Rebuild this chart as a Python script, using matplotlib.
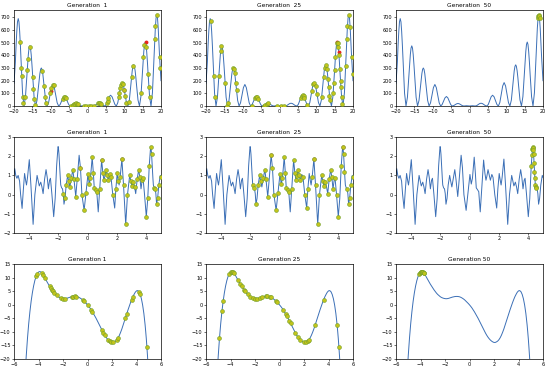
import numpy as np
import matplotlib
matplotlib.use("Agg")
import matplotlib.pyplot as plt

# ---- row 1: curve on [-20, 20] ----
r1_x = [-20.00, -19.63, -19.44, -19.24, -19.05, -18.85, -18.65, -18.46, -18.26, -18.06, -17.67, -17.28,
        -16.89, -16.49, -16.30, -16.10, -15.91, -15.71, -15.51, -15.32, -15.12, -14.92, -14.53, -14.14,
        -13.74, -13.35, -13.16, -12.96, -12.76, -12.57, -12.37, -12.17, -11.98, -11.78, -11.39, -11.00,
        -10.60, -10.21, -9.82, -9.42, -9.03, -8.64, -8.25, -7.85,
        -7.46, -7.07, -6.68, -6.28, -5.89, -5.50, -5.11, -4.71,
        -4.32, -3.93, -3.53, -3.14, -2.75, -2.36, -1.96, -1.57,
        -1.18, -0.79, -0.39, 0.00, 0.39, 0.79, 1.18, 1.57,
        1.96, 2.36, 2.75, 3.14, 3.53, 3.93, 4.32, 4.71,
        5.11, 5.50, 5.89, 6.28, 6.68, 7.07, 7.46, 7.85,
        8.25, 8.64, 9.03, 9.42, 9.82, 10.21, 10.60, 11.00,
        11.39, 11.78, 11.98, 12.17, 12.37, 12.57, 12.76, 12.96, 13.16, 13.35, 13.74, 14.14,
        14.53, 14.92, 15.12, 15.32, 15.51, 15.71, 15.91, 16.10, 16.30, 16.49, 16.89, 17.28,
        17.67, 18.06, 18.26, 18.46, 18.65, 18.75, 18.85, 18.95, 19.05, 19.24, 19.44, 19.63, 20.00]
r1_y = [180, 345, 477, 589, 664, 690, 664, 589, 477, 345, 101, 0,
        69, 238, 328, 406, 457, 475, 457, 406, 328, 238, 69, 0,
        44, 150, 207, 256, 289, 300, 289, 256, 207, 150, 44, 0,
        25, 85, 145, 170, 145, 85, 25, 0,
        11, 38, 64, 75, 64, 38, 11, 0,
        3, 10, 17, 20, 17, 10, 3, 0,
        1, 2, 1, 0, 1, 2, 1, 0,
        3, 11, 19, 22, 19, 11, 3, 0,
        12, 43, 73, 85, 73, 43, 12, 0,
        27, 93, 158, 185, 158, 93, 27, 0,
        47, 163, 225, 278, 313, 325, 313, 278, 225, 163, 47, 0,
        74, 253, 349, 431, 486, 505, 486, 431, 349, 253, 74, 0,
        105, 360, 498, 615, 693, 713, 720, 713, 693, 615, 498, 380, 200]

g1_r1_x = [-18.3, -18.0, -17.9, -17.6, -17.45, -16.9, -16.4, -16.2, -15.55, -14.9, -14.7, -14.5, -14.3,
           -12.3, -11.8, -11.5, -11.3, -10.1, -9.8, -9.5, -9.2, -6.8, -6.5, -6.2, -5.9,
           -4.4, -4.0, -3.7, -3.4, -3.1, -2.8, -2.5, -1.0, -0.5, 0.3, 1.0, 1.8,
           2.8, 3.1, 3.4, 3.7, 5.3, 5.5, 5.7, 8.5, 8.7, 8.9, 9.1, 9.4, 9.7, 10.0, 10.3, 10.6,
           11.3, 12.0, 12.4, 14.6, 15.2, 15.5, 16.0, 16.5, 16.7, 16.9, 18.3, 18.5, 18.9, 19.6, 19.8]
g1_r1_y = [502, 300, 233, 70, 20, 70, 285, 370, 463, 230, 133, 57, 10,
           279, 156, 69, 27, 103, 146, 169, 162, 57, 71, 75, 64,
           2, 9, 15, 19, 20, 18, 13, 1, 1, 1, 1, 2,
           20, 22, 21, 16, 26, 43, 60, 68, 104, 141, 166, 185, 171, 128, 76, 27,
           29, 230, 315, 101, 384, 485, 463, 250, 151, 70, 527, 634, 718, 390, 300]
g1_r1_red_x = [15.8, -10.0, 10.0]
g1_r1_red_y = [502, 115, 128]

g25_r1_x = [-18.7, -17.9, -17.6, -16.5, -16.0, -15.8, -14.8, -14.2, -13.9, -12.6, -12.4, -12.2, -11.9, -11.7,
            -7.6, -6.7, -6.4, -6.0, -5.8, -4.3, -3.9, -3.5, -3.0, -0.8, 0.5, 1.2,
            5.8, 6.0, 6.3, 6.6, 6.8, 7.5, 8.8, 9.2, 9.5, 9.8, 10.2,
            11.5, 12.0, 12.3, 12.6, 12.9, 13.2, 13.4, 13.6, 13.8,
            14.6, 14.8, 15.0, 15.2, 15.6, 15.8, 16.0, 16.2, 16.4, 16.6, 16.7, 16.9, 17.1,
            18.0, 18.3, 18.5, 18.8, 19.2, 19.6, 19.9]
g25_r1_y = [675, 233, 70, 240, 437, 471, 180, 2, 22, 300, 292, 264, 184, 125,
            3, 63, 74, 69, 58, 3, 11, 17, 20, 2, 1, 1,
            67, 78, 85, 79, 67, 10, 115, 176, 184, 160, 95,
            69, 230, 302, 325, 290, 215, 150, 82, 45,
            101, 185, 288, 384, 499, 501, 463, 400, 290, 200, 151, 70, 15,
            315, 527, 634, 719, 625, 390, 250]
g25_r1_red_x = [15.7, 16.1]
g25_r1_red_y = [505, 430]

g50_r1_x = [18.65, 18.75, 18.85, 18.95, 19.05]
g50_r1_y = [693, 713, 720, 713, 693]

# ---- row 2: curve on [-5, 5] ----
r2_x = [-5.00, -4.95, -4.88, -4.80, -4.72, -4.62, -4.55, -4.45, -4.37, -4.28, -4.20, -4.15, -4.08,
        -3.96, -3.85, -3.70, -3.58, -3.43, -3.35, -3.28, -3.18, -3.10, -3.02, -2.92, -2.82,
        -2.74, -2.66, -2.58, -2.52, -2.42, -2.30, -2.20, -2.10, -2.05, -2.02, -2.00, -1.98,
        -1.96, -1.94, -1.91, -1.88, -1.85, -1.82, -1.79, -1.76,
        -1.70, -1.65, -1.60, -1.53, -1.45, -1.35, -1.28, -1.20, -1.10, -1.00, -0.92, -0.80,
        -0.70, -0.57, -0.48, -0.38, -0.23, -0.10, 0.03, 0.12, 0.20, 0.32, 0.40, 0.46, 0.55,
        0.63, 0.73, 0.83, 0.96, 1.05, 1.12, 1.18, 1.26, 1.35, 1.42, 1.52, 1.60, 1.72, 1.85,
        1.93, 2.02, 2.10, 2.15, 2.22, 2.34, 2.45, 2.60, 2.72, 2.87, 2.95, 3.02, 3.12, 3.20,
        3.28, 3.38, 3.48, 3.56, 3.64, 3.72, 3.78, 3.88, 4.00, 4.10, 4.20, 4.25, 4.28, 4.30,
        4.32, 4.34, 4.36, 4.39, 4.42, 4.45, 4.48, 4.51, 4.54, 4.60, 4.65, 4.70, 4.77, 4.85,
        4.95, 5.00]
r2_y = [1.05, 1.35, 1.00, 0.85, 1.00, 0.70, 0.00, -0.72, 0.20, 1.10, 0.70, 0.50, 0.90,
        1.82, 0.50, -1.55, 0.00, 1.00, 0.70, 0.45, 0.65, 0.40, 0.05, 0.80, 1.30,
        0.90, 0.30, 0.75, 0.85, 0.00, -1.15, -0.20, 1.50, 2.05, 2.35, 2.50, 2.45,
        2.30, 2.10, 1.65, 1.20, 0.85, 0.50, 0.42, 0.35,
        0.30, 0.05, -0.50, -0.20, 0.50, 1.00, 0.70, 0.40, 0.85, 1.30, 0.80, -0.10,
        0.80, 2.05, 1.40, 0.00, -0.82, 0.10, 1.05, 0.55, 0.85, 1.95, 1.10, 0.35, 0.25,
        0.15, -0.90, 0.30, 1.80, 1.10, 0.75, 0.95, 1.30, 1.00, 0.75, 1.05, 0.90, 0.00, -0.70,
        0.30, 1.10, 0.70, 0.50, 0.90, 1.85, 0.50, -1.55, 0.00, 1.00, 0.70, 0.45, 0.65, 0.40,
        0.05, 0.80, 1.30, 0.90, 0.30, 0.75, 0.85, 0.00, -1.15, -0.20, 1.50, 2.05, 2.35, 2.50,
        2.45, 2.30, 2.10, 1.65, 1.20, 0.85, 0.50, 0.42, 0.35, 0.30, 0.05, -0.50, -0.20, 0.50,
        1.00, 0.90]

g1_r2_x = [-1.65, -1.53, -1.45, -1.35, -1.28, -1.20, -1.10, -1.00, -0.92, -0.80, -0.70, -0.48, -0.38,
           -0.23, -0.10, 0.03, 0.12, 0.20, 0.32, 0.40, 0.46, 0.55, 0.63, 0.83, 0.96, 1.05, 1.12,
           1.26, 1.35, 1.42, 1.52, 1.60, 1.72, 1.93, 2.02, 2.10, 2.22, 2.34, 2.45, 2.60, 2.72,
           2.87, 2.95, 3.02, 3.12, 3.20, 3.38, 3.48, 3.56, 3.72, 3.78, 4.00, 4.10, 4.20, 4.30,
           4.36, 4.54, 4.60, 4.70, 4.77, 4.85, 5.00]
g1_r2_y = [0.05, -0.20, 0.50, 1.00, 0.70, 0.40, 0.85, 1.30, 0.80, -0.10, 0.80, 1.40, 0.00,
           -0.82, 0.10, 1.05, 0.55, 0.85, 1.95, 1.10, 0.35, 0.25, 0.15, 0.30, 1.80, 1.10, 0.75,
           1.30, 1.00, 0.75, 1.05, 0.90, 0.00, 0.30, 1.10, 0.70, 0.90, 1.85, 0.50, -1.55, 0.00,
           1.00, 0.70, 0.45, 0.65, 0.40, 0.80, 1.30, 0.90, 0.75, 0.85, -1.15, -0.20, 1.50, 2.50,
           2.10, 0.35, 0.30, -0.50, -0.20, 0.50, 0.90]
g1_r2_red_x = [-0.48, 0.96, 2.34]
g1_r2_red_y = [1.40, 1.80, 1.85]

g25_r2_x = [-1.82, -1.76, -1.60, -1.45, -1.35, -1.28, -1.10, -1.00, -0.92, -0.80, -0.57, -0.48, -0.38,
            -0.23, -0.10, 0.03, 0.12, 0.20, 0.32, 0.40, 0.46, 0.55, 0.63, 0.83, 0.96, 1.05, 1.12,
            1.18, 1.26, 1.35, 1.42, 1.60, 1.72, 1.85, 1.93, 2.22, 2.34, 2.45, 2.60, 2.72, 2.87,
            2.95, 3.02, 3.12, 3.28, 3.38, 3.48, 3.56, 3.64, 3.78, 3.88, 4.00, 4.20, 4.30, 4.36,
            4.42, 4.60, 4.70, 4.77, 4.85, 5.00]
g25_r2_y = [0.50, 0.35, -0.50, 0.50, 1.00, 0.70, 0.85, 1.30, 0.80, -0.10, 2.05, 1.40, 0.00,
            -0.82, 0.10, 1.05, 0.55, 0.85, 1.95, 1.10, 0.35, 0.25, 0.15, 0.30, 1.80, 1.10, 0.75,
            0.95, 1.30, 1.00, 0.75, 0.90, 0.00, -0.70, 0.30, 0.90, 1.85, 0.50, -1.55, 0.00, 1.00,
            0.70, 0.45, 0.65, 0.05, 0.80, 1.30, 0.90, 0.30, 0.85, 0.00, -1.15, 1.50, 2.50, 2.10,
            1.20, 0.30, -0.50, -0.20, 0.50, 0.90]
g25_r2_red_x = [-0.57, 4.30, 2.34]
g25_r2_red_y = [2.05, 2.50, 1.85]

g50_r2_x = [4.20, 4.25, 4.28, 4.30, 4.32, 4.34, 4.36, 4.39, 4.42, 4.45, 4.48, 4.51, 4.54]
g50_r2_y = [1.50, 2.05, 2.35, 2.50, 2.45, 2.30, 2.10, 1.65, 1.20, 0.85, 0.50, 0.42, 0.35]

# ---- row 3: curve on [-6, 6] ----
r3_x = [-5.10, -5.00, -4.90, -4.80, -4.70, -4.60, -4.50, -4.40, -4.30, -4.20, -4.10, -4.05, -4.00,
        -3.95, -3.90, -3.85, -3.80, -3.75, -3.70, -3.60, -3.50, -3.40, -3.30, -3.20, -3.10,
        -3.00, -2.90, -2.80, -2.70, -2.60, -2.50, -2.40, -2.30, -2.20, -2.10, -2.00, -1.90,
        -1.80, -1.70, -1.60, -1.50, -1.40, -1.30, -1.20, -1.10, -1.00, -0.90, -0.80, -0.70,
        -0.60, -0.50, -0.40, -0.30, -0.20, -0.10, 0.00, 0.10, 0.20, 0.30, 0.40, 0.50, 0.60,
        0.70, 0.80, 0.90, 1.00, 1.10, 1.20, 1.30, 1.40, 1.50, 1.60, 1.70, 1.80, 1.90, 2.00,
        2.10, 2.20, 2.30, 2.40, 2.50, 2.60, 2.70, 2.80, 2.90, 3.00, 3.10, 3.20, 3.30, 3.40,
        3.50, 3.60, 3.70, 3.80, 3.90, 4.00, 4.10, 4.20, 4.30, 4.40, 4.50, 4.60, 4.70, 4.75,
        4.80, 4.85, 4.90, 5.00]
r3_y = [-26.0, -18.8, -12.4, -7.0, -2.5, 1.3, 4.4, 6.9, 8.9, 10.4, 11.4, 11.75, 12.0,
        12.15, 12.2, 12.15, 12.0, 11.8, 11.5, 10.8, 10.0, 9.2, 8.4, 7.6, 6.9,
        6.2, 5.5, 4.9, 4.3, 3.8, 3.4, 3.0, 2.7, 2.5, 2.35, 2.25, 2.2,
        2.25, 2.35, 2.5, 2.65, 2.8, 2.9, 3.0, 3.05, 3.05, 3.0, 2.9, 2.7,
        2.45, 2.15, 1.8, 1.35, 0.9, 0.45, -0.05, -0.6, -1.2, -1.9, -2.6, -3.4, -4.2,
        -5.0, -5.9, -6.8, -7.7, -8.6, -9.5, -10.4, -11.2, -11.9, -12.5, -13.0, -13.4, -13.7, -13.9,
        -13.9, -13.7, -13.4, -12.9, -12.2, -11.3, -10.2, -9.0, -7.6, -6.2, -4.8, -3.4, -2.0, -0.7,
        0.6, 1.8, 2.9, 3.8, 4.6, 5.1, 5.2, 4.8, 3.8, 2.2, -0.1, -3.2, -7.3, -9.8,
        -12.5, -15.6, -19.0, -27.0]

g1_r3_x = [-4.2, -4.1, -3.7, -3.6, -3.5, -3.1, -3.0, -2.9, -2.8, -2.7, -2.5, -2.2, -2.0, -1.8,
           -1.3, -1.2, -1.0, -0.9, -0.4, -0.3, 0.0, 0.3, 0.4, 1.2, 1.3, 1.4, 1.7, 1.8, 1.9, 2.1,
           2.4, 2.5, 3.1, 3.2, 3.6, 3.7, 4.2, 4.3, 4.85]
g1_r3_y = [10.4, 11.4, 11.5, 10.8, 10.0, 6.9, 6.2, 5.5, 4.9, 4.3, 3.4, 2.5, 2.25, 2.25,
           2.9, 3.0, 3.05, 3.0, 1.8, 1.35, -0.05, -1.9, -2.6, -9.5, -10.4, -11.2, -13.0, -13.4, -13.7, -13.9,
           -12.9, -12.2, -4.8, -3.4, 1.8, 2.9, 4.8, 3.8, -15.6]

g25_r3_x = [-4.9, -4.7, -4.6, -4.1, -4.0, -3.9, -3.8, -3.7, -3.4, -3.2, -3.1, -2.9, -2.8, -2.6,
            -2.4, -2.2, -2.0, -1.8, -1.6, -1.4, -1.1, -1.0, -0.8, -0.7, -0.3, -0.2, 0.3, 0.5,
            0.6, 0.8, 0.9, 1.3, 1.5, 1.7, 2.0, 2.2, 2.3, 2.4, 2.9, 3.6, 4.7, 4.85]
g25_r3_y = [-12.4, -2.5, 1.3, 11.4, 12.0, 12.2, 12.0, 11.5, 9.2, 7.6, 6.9, 5.5, 4.9, 3.8,
            3.0, 2.5, 2.25, 2.25, 2.5, 2.8, 3.05, 3.05, 2.9, 2.7, 1.35, 0.9, -1.9, -3.4,
            -4.2, -5.9, -6.8, -10.4, -11.9, -13.0, -13.9, -13.7, -13.4, -12.9, -7.6, 1.8, -7.3, -15.6]

g50_r3_x = [-4.1, -4.05, -4.0, -3.95, -3.9, -3.85, -3.8, -3.75, -3.7]
g50_r3_y = [11.4, 11.75, 12.0, 12.15, 12.2, 12.15, 12.0, 11.8, 11.5]

col_left = [14, 206, 396]
col_width = 147
row_top = [10, 137, 264]
row_height = [96, 96, 95]
W, H = 550.0, 374.0


def panel(fig, row, col, cx, cy, dx, dy, rx, ry, title, xlim, ylim, xticks, yticks):
    left = col_left[col] / W
    bottom = 1 - (row_top[row] + row_height[row]) / H
    ax = fig.add_axes([left, bottom, col_width / W, row_height[row] / H])
    ax.plot(cx, cy, color='#3b6fb6', lw=0.7, zorder=1)
    if rx:
        ax.plot(rx, ry, 'o', color='#e8251e', ms=2.8, mew=0, zorder=2)
    if dx:
        ax.plot(dx, dy, 'o', mfc='#c3c41a', mec='#6f9e2a', ms=2.8, mew=0.4, zorder=3)
    ax.set_xlim(xlim)
    ax.set_ylim(ylim)
    ax.set_xticks(xticks)
    ax.set_yticks(yticks)
    ax.tick_params(labelsize=3.6, length=1.5, width=0.4, pad=1)
    for s in ax.spines.values():
        s.set_linewidth(0.5)
    ax.set_title(title, fontsize=4.2, pad=2)
    return ax


if __name__ == "__main__":
    fig = plt.figure(figsize=(5.5, 3.74), dpi=100)

    gens = ['1', '25', '50']
    r1_dots = [(g1_r1_x, g1_r1_y, g1_r1_red_x, g1_r1_red_y),
               (g25_r1_x, g25_r1_y, g25_r1_red_x, g25_r1_red_y),
               (g50_r1_x, g50_r1_y, [], [])]
    r2_dots = [(g1_r2_x, g1_r2_y, g1_r2_red_x, g1_r2_red_y),
               (g25_r2_x, g25_r2_y, g25_r2_red_x, g25_r2_red_y),
               (g50_r2_x, g50_r2_y, [], [])]
    r3_dots = [(g1_r3_x, g1_r3_y, [], []),
               (g25_r3_x, g25_r3_y, [], []),
               (g50_r3_x, g50_r3_y, [], [])]

    for i in range(3):
        dx, dy, rx, ry = r1_dots[i]
        panel(fig, 0, i, r1_x, r1_y, dx, dy, rx, ry, 'Generation  ' + gens[i],
              (-20, 20), (0, 758), range(-20, 21, 5), range(0, 701, 100))
        dx, dy, rx, ry = r2_dots[i]
        panel(fig, 1, i, r2_x, r2_y, dx, dy, rx, ry, 'Generation  ' + gens[i],
              (-5, 5), (-2, 3), range(-4, 5, 2), range(-2, 4))
        dx, dy, rx, ry = r3_dots[i]
        panel(fig, 2, i, r3_x, r3_y, dx, dy, rx, ry, 'Generation ' + gens[i],
              (-6, 6), (-20, 15), range(-6, 7, 2), range(-20, 16, 5))

    plt.savefig("out.png", dpi=100)
